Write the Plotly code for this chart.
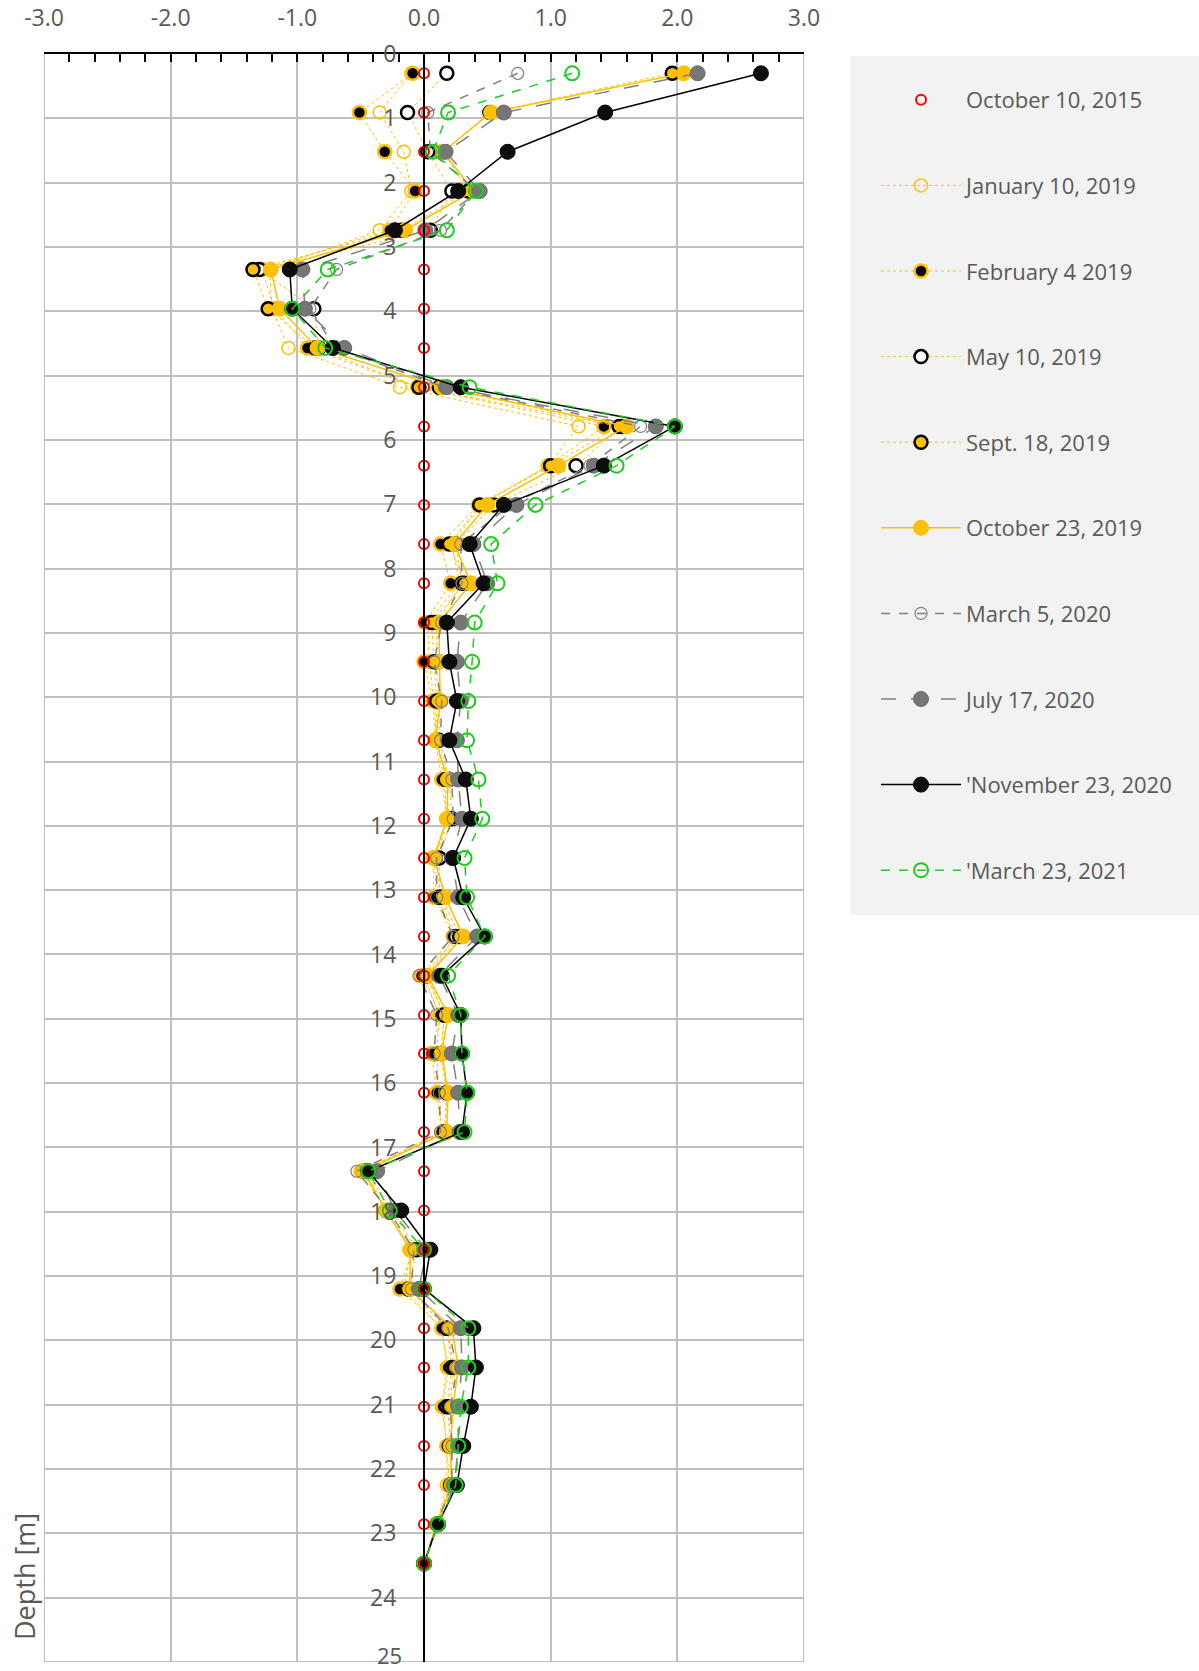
import plotly.graph_objects as go

# depth of each reading [m]
depth = [0.30, 0.91, 1.52, 2.13, 2.74, 3.35, 3.96, 4.57, 5.18, 5.79,
         6.40, 7.01, 7.62, 8.23, 8.84, 9.45, 10.06, 10.67, 11.28, 11.89,
         12.50, 13.11, 13.72, 14.33, 14.94, 15.54, 16.15, 16.76, 17.37, 17.98,
         18.59, 19.20, 19.81, 20.42, 21.03, 21.64, 22.25, 22.86, 23.47]

oct_2015 = [0.0] * 39

jan_2019 = [-0.10, -0.35, -0.16, -0.10, -0.35, -1.22, -1.20, -1.07, -0.19, 1.22,
            0.98, 0.45, 0.22, 0.28, 0.03, 0.04, 0.08, 0.10, 0.16, 0.18,
            0.08, 0.10, 0.25, 0.00, 0.12, 0.10, 0.12, 0.14, -0.50, -0.30,
            -0.10, -0.16, 0.14, 0.18, 0.14, 0.18, 0.18, 0.10, 0.00]

feb_2019 = [-0.09, -0.51, -0.31, -0.07, -0.27, -1.28, -1.18, -0.92, -0.05, 1.42,
            0.98, 0.43, 0.13, 0.21, 0.01, 0.00, 0.07, 0.09, 0.14, 0.18,
            0.07, 0.08, 0.23, -0.02, 0.13, 0.06, 0.10, 0.14, -0.46, -0.30,
            -0.09, -0.19, 0.14, 0.19, 0.15, 0.18, 0.20, 0.10, 0.00]

may_2019 = [0.18, -0.13, 0.03, 0.22, 0.05, -1.30, -0.87, -0.83, 0.12, 1.56,
            1.20, 0.55, 0.25, 0.30, 0.10, 0.10, 0.12, 0.12, 0.20, 0.22,
            0.12, 0.12, 0.25, 0.02, 0.16, 0.14, 0.18, 0.16, -0.46, -0.26,
            -0.06, -0.12, 0.18, 0.22, 0.18, 0.22, 0.21, 0.10, 0.00]

sep_2019 = [1.96, 0.52, 0.15, 0.35, -0.18, -1.35, -1.23, -0.86, -0.04, 1.54,
            1.00, 0.44, 0.20, 0.32, 0.06, 0.08, 0.10, 0.10, 0.17, 0.20,
            0.09, 0.14, 0.28, 0.02, 0.16, 0.13, 0.18, 0.17, -0.48, -0.30,
            -0.10, -0.12, 0.18, 0.24, 0.20, 0.20, 0.22, 0.10, 0.00]

oct_2019 = [2.05, 0.53, 0.15, 0.39, -0.15, -1.21, -1.14, -0.84, 0.14, 1.60,
            1.06, 0.50, 0.24, 0.37, 0.12, 0.12, 0.13, 0.09, 0.19, 0.18,
            0.08, 0.17, 0.31, 0.03, 0.19, 0.14, 0.19, 0.18, -0.48, -0.30,
            -0.11, -0.11, 0.22, 0.27, 0.23, 0.21, 0.22, 0.10, 0.00]

mar_2020 = [0.74, 0.03, 0.05, 0.42, 0.13, -0.69, -0.90, -0.70, 0.16, 1.71,
            1.31, 0.68, 0.29, 0.30, 0.14, 0.08, 0.14, 0.13, 0.22, 0.23,
            0.10, 0.10, 0.23, -0.04, 0.10, 0.08, 0.12, 0.13, -0.53, -0.28,
            -0.08, -0.10, 0.19, 0.26, 0.21, 0.22, 0.22, 0.10, 0.00]

jul_2020 = [2.16, 0.63, 0.17, 0.44, 0.01, -0.96, -0.94, -0.63, 0.18, 1.83,
            1.34, 0.73, 0.39, 0.50, 0.29, 0.26, 0.29, 0.26, 0.27, 0.30,
            0.22, 0.27, 0.42, 0.12, 0.27, 0.22, 0.27, 0.28, -0.37, -0.23,
            0.02, -0.04, 0.29, 0.30, 0.27, 0.27, 0.24, 0.11, 0.00]

nov_2020 = [2.66, 1.43, 0.66, 0.27, -0.23, -1.06, -1.04, -0.72, 0.29, 1.98,
            1.42, 0.63, 0.36, 0.47, 0.18, 0.20, 0.26, 0.20, 0.33, 0.37,
            0.23, 0.31, 0.48, 0.14, 0.29, 0.30, 0.34, 0.30, -0.44, -0.18,
            0.05, 0.00, 0.39, 0.41, 0.37, 0.31, 0.26, 0.11, 0.00]

mar_2021 = [1.17, 0.19, 0.07, 0.41, 0.18, -0.76, -1.04, -0.78, 0.36, 1.98,
            1.52, 0.88, 0.53, 0.58, 0.40, 0.38, 0.35, 0.34, 0.43, 0.46,
            0.32, 0.34, 0.48, 0.19, 0.29, 0.30, 0.34, 0.32, -0.44, -0.27,
            0.00, 0.00, 0.35, 0.35, 0.29, 0.27, 0.25, 0.11, 0.00]

x_ticks = [-3, -2, -1, 0, 1, 2, 3]
x_labels = ["-3.0", "-2.0", "-1.0", "0.0", "1.0", "2.0", "3.0"]
y_ticks = list(range(0, 26))

ORANGE = "#FFC000"
GREY = "#808080"
GREEN = "#1ECC1E"
TXT = "#595959"
GRID = "#BFBFBF"
FONT = "Open Sans"

fig = go.Figure()

def add(name, x, rank, mode, line, marker):
    fig.add_trace(go.Scatter(
        x=x, y=depth, name=name, mode=mode, line=line, marker=marker,
        legendgroup=name, legendrank=rank))

dotted = dict(color=ORANGE, width=1, dash="dot")
add("January 10, 2019", jan_2019, 2, "lines+markers", dotted,
    dict(symbol="circle-open", size=13, color=ORANGE, line=dict(width=1.5)))
add("February 4 2019", feb_2019, 3, "lines+markers", dotted,
    dict(symbol="circle", size=13, color="#000000", line=dict(color=ORANGE, width=2.5)))
add("May 10, 2019", may_2019, 4, "lines+markers", dotted,
    dict(symbol="circle", size=13, color="#FFFFFF", line=dict(color="#000000", width=2.5)))
add("Sept. 18, 2019", sep_2019, 5, "lines+markers", dotted,
    dict(symbol="circle", size=13, color=ORANGE, line=dict(color="#000000", width=2.5)))
add("October 23, 2019", oct_2019, 6, "lines+markers", dict(color=ORANGE, width=1.5),
    dict(symbol="circle", size=15, color=ORANGE, line=dict(color=ORANGE, width=1)))
add("March 5, 2020", mar_2020, 7, "lines+markers", dict(color=GREY, width=1.5, dash="dash"),
    dict(symbol="circle-open", size=12, color=GREY, line=dict(width=1.2)))
add("July 17, 2020", jul_2020, 8, "lines+markers", dict(color=GREY, width=1.5, dash="longdash"),
    dict(symbol="circle", size=15, color="#767676", line=dict(color="#6a6a6a", width=1)))
add("'November 23, 2020", nov_2020, 9, "lines+markers", dict(color="#000000", width=1.5),
    dict(symbol="circle", size=15, color="#0d0d0d", line=dict(color="#000000", width=1)))
add("'March 23, 2021", mar_2021, 10, "lines+markers", dict(color=GREEN, width=1.5, dash="dash"),
    dict(symbol="circle-open", size=14, color=GREEN, line=dict(width=2)))
add("October 10, 2015", oct_2015, 1, "markers", None,
    dict(symbol="circle-open", size=10, color="#FF0000", line=dict(width=2)))

# plot border drawn as grid-coloured lines (plotly skips grid at the range ends)
border = [
    dict(type="line", xref="x", yref="paper", x0=-3, x1=-3, y0=0, y1=1),
    dict(type="line", xref="x", yref="paper", x0=3, x1=3, y0=0, y1=1),
    dict(type="line", xref="paper", yref="y", x0=0, x1=1, y0=25, y1=25),
]
for b in border:
    b.update(line=dict(color=GRID, width=2), layer="below")

fig.update_layout(
    width=1199, height=1671,
    margin=dict(l=44, r=395, t=54, b=9),
    plot_bgcolor="white", paper_bgcolor="white",
    font=dict(family=FONT, color=TXT),
    xaxis=dict(range=[-3, 3], side="top", tickvals=x_ticks, ticktext=x_labels,
               showgrid=True, gridcolor=GRID, gridwidth=2,
               showline=True, linecolor="#000000", linewidth=2, mirror=False,
               ticks="inside", ticklen=8, tickwidth=2, tickcolor="#000000",
               minor=dict(dtick=0.2, ticks="inside", ticklen=8, tickwidth=2,
                          tickcolor="#000000", showgrid=False),
               zeroline=False, tickfont=dict(size=23, color=TXT),
               ticklabelstandoff=17, automargin=False, fixedrange=True),
    yaxis=dict(range=[25, 0], tickvals=y_ticks, anchor="free", position=0.5,
               showgrid=True, gridcolor=GRID, gridwidth=2,
               showline=True, linecolor="#000000", linewidth=2,
               ticks="", zeroline=False, tickfont=dict(size=23, color=TXT),
               ticklabelstandoff=22, automargin=False, fixedrange=True),
    legend=dict(x=(876 - 44) / 760, xanchor="left", y=1 - (79 - 54) / 1608, yanchor="top",
                bgcolor="rgba(0,0,0,0)", font=dict(size=22, color=TXT, family=FONT),
                traceorder="grouped", tracegroupgap=54, itemwidth=80),
    shapes=[dict(type="rect", xref="paper", yref="paper",
                 x0=(850 - 44) / 760, x1=(1199 - 44) / 760,
                 y0=1 - (915 - 54) / 1608, y1=1 - (56 - 54) / 1608,
                 fillcolor="#F2F2F2", line=dict(width=0), layer="below")] + border,
    annotations=[
        dict(text="Depth [m]", textangle=-90, xref="paper", yref="paper",
             x=(24 - 44) / 760, y=1 - (1577 - 54) / 1608, showarrow=False,
             xanchor="center", yanchor="middle",
             font=dict(size=27, color=TXT, family=FONT)),
        dict(text="25", xref="x", yref="y", x=0, y=25, showarrow=False,
             xanchor="right", yanchor="middle", xshift=-20, yshift=7,
             font=dict(size=22, color=TXT, family=FONT)),
    ],
    showlegend=True,
)

fig.write_html("out.html", config={"displayModeBar": False},
               post_script="document.body.style.margin='0';")
